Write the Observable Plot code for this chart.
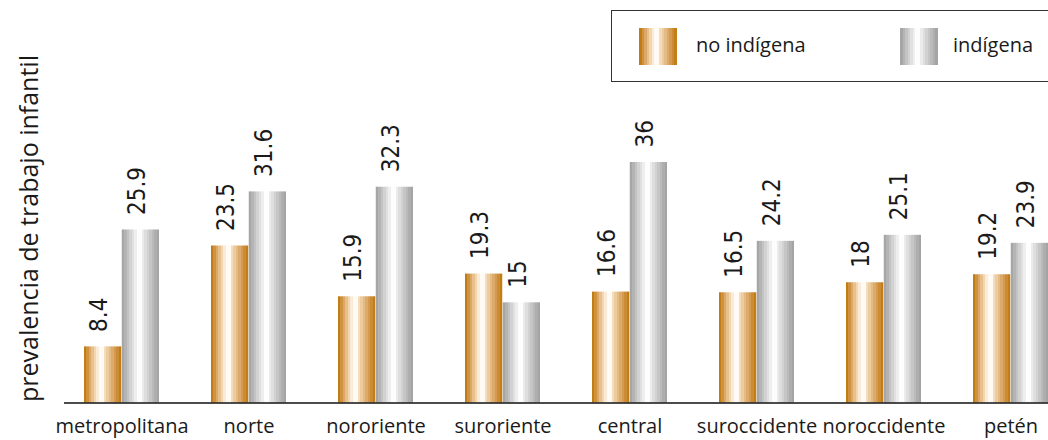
<!DOCTYPE html>
<html>
<head>
<meta charset="utf-8">
<script src="https://cdn.jsdelivr.net/npm/d3@7"></script>
<script src="https://cdn.jsdelivr.net/npm/@observablehq/plot@0.6"></script>
<style>
html, body { margin: 0; padding: 0; background: #fff; overflow: hidden; }
#wrap { position: relative; width: 1048px; height: 440px; overflow: hidden; font-family: "Open Sans", sans-serif; color: #1a1a1a; }
#legend { position: absolute; left: 611px; top: 10px; width: 480px; height: 72px; border: 1.5px solid #333; box-sizing: border-box; background: #fff; }
.sw { position: absolute; top: 16.5px; width: 38px; height: 37px; }
.lt { position: absolute; top: 24px; font-size: 20px; line-height: 20px; white-space: nowrap; }
</style>
</head>
<body>
<div id="wrap"></div>
<script>
// ---- data ----
const regions = ["metropolitana", "norte", "nororiente", "suroriente", "central", "suroccidente", "noroccidente", "petén"];
const noIndigena = [8.4, 23.5, 15.9, 19.3, 16.6, 16.5, 18, 19.2];
const indigena = [25.9, 31.6, 32.3, 15, 36, 24.2, 25.1, 23.9];
const seriesNames = ["no indígena", "indígena"];
const yTitle = "prevalencia de trabajo infantil";

// ---- styling ----
const orangeBands = ["#c27d12","#cf9240","#dca868","#e8c08c","#f2d6b0","#f9ebd8","#fffaf3","#fffaf3","#f5dcbc","#eccb9c","#e4bb84","#dcaa6a","#d49a50","#cc8c36","#c27e14"];
const grayBands = ["#a6a6a6","#b4b4b4","#c3c3c3","#d2d2d2","#e0e0e0","#eeeeee","#fdfdfd","#fdfdfd","#ebebeb","#dedede","#d2d2d2","#c6c6c6","#bababa","#aeaeae","#a4a4a4"];

const rowsA = regions.map((r, i) => ({region: r, value: noIndigena[i]}));
const rowsB = regions.map((r, i) => ({region: r, value: indigena[i]}));

const half = 37.75;
const ns = "http://www.w3.org/2000/svg";

function makeGradient(id, bands) {
  const g = document.createElementNS(ns, "linearGradient");
  g.setAttribute("id", id);
  g.setAttribute("x1", "0"); g.setAttribute("x2", "1");
  g.setAttribute("y1", "0"); g.setAttribute("y2", "0");
  const n = bands.length;
  bands.forEach((c, i) => {
    [i / n, (i + 1) / n].forEach(o => {
      const s = document.createElementNS(ns, "stop");
      s.setAttribute("offset", o);
      s.setAttribute("stop-color", c);
      g.appendChild(s);
    });
  });
  return g;
}
function defsMark() {
  const defs = document.createElementNS(ns, "defs");
  defs.appendChild(makeGradient("gOrange", orangeBands));
  defs.appendChild(makeGradient("gGray", grayBands));
  return defs;
}
function cssGradient(bands) {
  const n = bands.length;
  return "linear-gradient(to right," + bands.map((c, i) => `${c} ${(i / n * 100).toFixed(2)}% ${((i + 1) / n * 100).toFixed(2)}%`).join(",") + ")";
}

const numFont = '"Liberation Sans Narrow", "Arial Narrow", "DejaVu Sans Condensed", sans-serif';

const chart = Plot.plot({
  width: 1048,
  height: 440,
  marginLeft: 64,
  marginRight: 0,
  marginTop: 0,
  marginBottom: 37.5,
  style: {fontFamily: '"Open Sans", sans-serif', background: "transparent", color: "#1a1a1a"},
  x: {domain: regions, range: [56.25, 1076.25], paddingInner: 0.408, paddingOuter: 0.204, align: 0.5, label: null},
  y: {domain: [0, 36], range: [402.5, 162], axis: null},
  marks: [
    defsMark,
    Plot.barY(rowsA, {x: "region", y: "value", fill: "url(#gOrange)", insetRight: half}),
    Plot.barY(rowsB, {x: "region", y: "value", fill: "url(#gGray)", insetLeft: half}),
    Plot.ruleY([0], {stroke: "#111", strokeWidth: 1.5}),
    Plot.axisX({tickSize: 0, tickPadding: 16, fontSize: 20, label: null, fill: "#1a1a1a"}),
    Plot.text(rowsA, {x: "region", y: "value", text: d => String(d.value), rotate: -90, textAnchor: "start", dy: -15, dx: -half / 2 - 4, fontSize: 24, fontFamily: numFont, fill: "#1a1a1a"}),
    Plot.text(rowsB, {x: "region", y: "value", text: d => String(d.value), rotate: -90, textAnchor: "start", dy: -15, dx: half / 2 - 4, fontSize: 24, fontFamily: numFont, fill: "#1a1a1a"}),
    Plot.text([yTitle], {frameAnchor: "bottom-left", text: d => d, rotate: -90, textAnchor: "start", dx: -27, dy: -1, fontSize: 25, fill: "#1a1a1a"})
  ]
});

const wrap = document.getElementById("wrap");
wrap.appendChild(chart);

// legend (overlay, top right)
const legend = document.createElement("div");
legend.id = "legend";
const items = [
  {name: seriesNames[0], bands: orangeBands, sw: 26.5, tx: 84},
  {name: seriesNames[1], bands: grayBands, sw: 287.5, tx: 341}
];
items.forEach(it => {
  const s = document.createElement("div");
  s.className = "sw";
  s.style.left = it.sw + "px";
  s.style.background = cssGradient(it.bands);
  legend.appendChild(s);
  const t = document.createElement("div");
  t.className = "lt";
  t.style.left = it.tx + "px";
  t.textContent = it.name;
  legend.appendChild(t);
});
wrap.appendChild(legend);
</script>
</body>
</html>
